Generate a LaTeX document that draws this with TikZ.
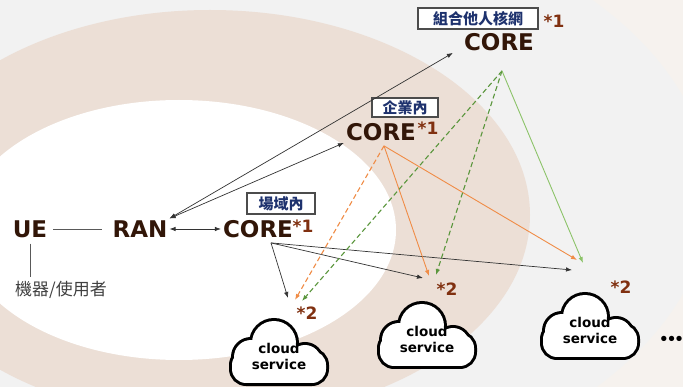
\documentclass[tikz,border=0pt]{standalone}
\usepackage{fontspec}
\setmainfont{DejaVu Sans}
\newfontfamily\cjk{Noto Sans CJK TC}
\usetikzlibrary{arrows.meta}

\definecolor{bgpink}{RGB}{246,242,238}
\definecolor{bggray}{RGB}{242,242,242}
\definecolor{bgbeige}{RGB}{236,223,214}
\definecolor{coretxt}{RGB}{50,22,8}
\definecolor{startxt}{RGB}{128,48,16}
\definecolor{boxtxt}{RGB}{30,50,110}
\definecolor{orng}{RGB}{240,140,70}
\definecolor{grndark}{RGB}{90,150,60}
\definecolor{grnlight}{RGB}{140,195,105}

\newcommand\cloudbumps{(-28,4) circle[radius=17] (-5,-10) circle[radius=22] (26,8) circle[radius=16]}

\tikzset{
  mainlbl/.style={font=\bfseries\fontsize{23}{23}\selectfont, text=coretxt, inner sep=2pt},
  starlbl/.style={font=\bfseries\fontsize{17}{17}\selectfont, text=startxt, inner sep=0pt},
  scopebox/.style={draw=black!70, fill=white, line width=1.3pt, text=boxtxt,
    font=\cjk\bfseries\fontsize{15}{15}\selectfont, inner sep=0pt},
  cloudlbl/.style={font=\bfseries\fontsize{13.5}{16}\selectfont, align=center, inner sep=0pt},
  tip/.style={-{Latex[length=6pt,width=4.5pt]}},
  tips/.style={{Latex[length=6pt,width=4.5pt]}-{Latex[length=6pt,width=4.5pt]}},
  blkline/.style={tip, draw=black!80, line width=0.7pt},
  orline/.style={tip, draw=orng, line width=0.9pt},
  ordash/.style={tip, draw=orng, dash pattern=on 5pt off 3pt, line width=1.1pt},
  grdash/.style={tip, draw=grndark, dash pattern=on 5pt off 3pt, line width=1.1pt},
  grline/.style={tip, draw=grnlight, line width=0.9pt},
  cloudicon/.pic={
    \draw[line width=6pt] \cloudbumps;
    \draw[line width=6pt, rounded corners=14pt] (-47,-2) rectangle (47,30);
    \fill[white] \cloudbumps;
    \fill[white, rounded corners=14pt] (-47,-2) rectangle (47,30);
  }
}

\begin{document}
\begin{tikzpicture}[x=1pt, y=-1pt]
  \useasboundingbox (0,0) rectangle (683,387);
  \begin{scope}
    \clip (0,0) rectangle (683,387);
    \fill[bgpink] (0,0) rectangle (683,387);
    \fill[bggray] (220,195) ellipse [x radius=490, y radius=300];
    \fill[bgbeige] (210,215) ellipse [x radius=320, y radius=205];
    \fill[white] (179,230) ellipse [x radius=217, y radius=130];
  \end{scope}

  \node[mainlbl] (ue) at (30,229) {UE};
  \node[mainlbl] (ran) at (140,229) {RAN};
  \node[mainlbl] (corea) at (258,229) {CORE};
  \node[mainlbl] (coreb) at (381,132) {CORE};
  \node[mainlbl] (corec) at (499,42) {CORE};
  \node[font=\cjk\fontsize{17}{17}\selectfont, text=black!75, inner sep=2pt] (user) at (61,290) {機器/使用者};

  \node[scopebox, minimum width=68pt, minimum height=21pt] (boxa) at (281,203.5) {場域內};
  \node[scopebox, minimum width=66pt, minimum height=19pt] (boxb) at (405,107.5) {企業內};
  \node[scopebox, minimum width=120pt, minimum height=21pt] (boxc) at (478,18.5) {組合他人核網};

  \node[starlbl] (stara) at (303,226) {*1};
  \node[starlbl] (starb) at (428,128) {*1};
  \node[starlbl] (starc) at (554,21) {*1};

  \pic at (279,353) {cloudicon};
  \pic at (427,336) {cloudicon};
  \pic at (590,327) {cloudicon};
  \node[cloudlbl] (clouda) at (279,356) {cloud\\service};
  \node[cloudlbl] (cloudb) at (427,339) {cloud\\service};
  \node[cloudlbl] (cloudc) at (590,330) {cloud\\service};
  \node[starlbl] (stard) at (307,313) {*2};
  \node[starlbl] (stare) at (447,289) {*2};
  \node[starlbl] (starf) at (621,287) {*2};
  \node[font=\bfseries\fontsize{15}{15}\selectfont, inner sep=0pt, anchor=west] (more) at (659,340) {•\kern-2pt•\kern-2pt•};

  \draw[black!65, line width=0.8pt, shorten <=4pt, shorten >=8pt] (ue) -- (ran);
  \draw[black!65, line width=0.8pt, shorten <=4pt, shorten >=2pt] (ue.south) -- (ue.south |- user.north);
  \draw[tips, black!80, line width=0.7pt] (ran) -- (corea);
  \draw[tips, black!80, line width=0.7pt] (ran.north east) -- (coreb.south west);
  \draw[tips, black!80, line width=0.7pt] (ran.north east) -- ([xshift=-9pt]corec.south west);

  \coordinate (outa) at ([xshift=13pt,yshift=-3pt]corea.south);
  \coordinate (outb) at ([xshift=3pt,yshift=-3pt]coreb.south);
  \coordinate (outc) at ([xshift=3pt,yshift=-18pt]corec.south);
  \coordinate (hita1) at (288,298);
  \coordinate (hita2) at (295,300);
  \coordinate (hita3) at (302,301);
  \coordinate (hitb1) at (423,278);
  \coordinate (hitb2) at (429,276);
  \coordinate (hitb3) at (436,275);
  \coordinate (hitc1) at (572,270);
  \coordinate (hitc2) at (577,260);
  \coordinate (hitc3) at (583,263);

  \foreach \t in {hita1,hitb1,hitc1}
    \draw[blkline] (outa) -- (\t);
  \draw[ordash] (outb) -- (hita2);
  \foreach \t in {hitb2,hitc2}
    \draw[orline] (outb) -- (\t);
  \foreach \t in {hita3,hitb3}
    \draw[grdash] (outc) -- (\t);
  \draw[grline] (outc) -- (hitc3);
\end{tikzpicture}
\end{document}
